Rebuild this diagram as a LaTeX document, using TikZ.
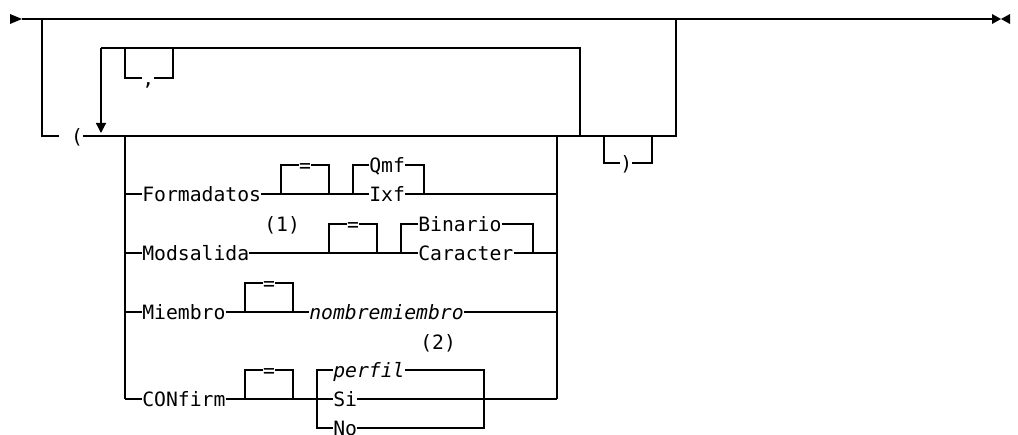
\documentclass[tikz,border=0pt]{standalone}
\usepackage{fontspec}
\newfontfamily\railfont{DejaVu Sans Mono}
\usetikzlibrary{arrows.meta}

\begin{document}
\begin{tikzpicture}[
  x=0.75pt, y=-0.75pt,
  word/.style={
    inner xsep=0pt,
    inner ysep=0pt,
    text height=10.8pt,
    text depth=0pt,
    anchor=west,
    font=\railfont\fontsize{14.8}{16}\selectfont
  },
  var/.style={word, font=\railfont\fontsize{14.8}{16}\selectfont\itshape},
  eqsign/.style={word, anchor=center},
  wire/.style={line width=0.9pt},
  backarrow/.style={wire, -{Triangle[length=7.5pt, width=7.5pt]}}
]

  \useasboundingbox (0,0) rectangle (1018,435);

  % start and end marks
  \fill (10,14) -- (22,19) -- (10,24) -- cycle;
  \fill (992,14) -- (1001,19) -- (992,24) -- cycle;
  \fill (1010,14) -- (1001,19) -- (1010,24) -- cycle;

  \coordinate (Start)  at (22,19);
  \coordinate (End)    at (992,19);
  \coordinate (OuterL) at (42,19);
  \coordinate (OuterR) at (676,19);

  \node[word] (lparen) at (59,136) {\hphantom{(}(};
  \node[word] (comma)  at (142,78) {,};
  \node[word] (rparen) at (620,163) {)};

  \node[word]   (formadatos) at (142,194) {Formadatos};
  \node[eqsign] (eq1)        at (305,165) {=};
  \node[word]   (qmf)        at (369,165) {Qmf};
  \node[word]   (ixf)        at (369,194) {Ixf};

  \node[word]   (modsalida) at (142,253) {Modsalida};
  \node[word]   (note1)     at (264,224) {(1)};
  \node[eqsign] (eq2)       at (353,224) {=};
  \node[word]   (binario)   at (418,224) {Binario};
  \node[word]   (caracter)  at (418,253) {Caracter};

  \node[word]   (miembro) at (142,312) {Miembro};
  \node[eqsign] (eq3)     at (269,283) {=};
  \node[var]    (nombre)  at (309,312) {nombremiembro};

  \node[word]   (confirm) at (142,399) {CONfirm};
  \node[eqsign] (eq4)     at (269,370) {=};
  \node[word]   (note2)   at (420,342) {(2)};
  \node[var]    (perfil)  at (333,370) {perfil};
  \node[word]   (si)      at (333,399) {Si};
  \node[word]   (no)      at (333,428) {No};

  \coordinate (RepR)   at (580,136);
  \coordinate (RepRT)  at (580,48);
  \coordinate (RepLT)  at (101,48);
  \coordinate (RepTip) at (101,133);
  \coordinate (CommaL) at (125,48);
  \coordinate (CommaR) at (173,48);
  \coordinate (BoxLT)  at (125,136);
  \coordinate (BoxRT)  at (557,136);
  \coordinate (ParL)   at (604,136);
  \coordinate (ParR)   at (652,136);

  \coordinate (Eq1L) at (281,194);
  \coordinate (Eq1R) at (329,194);
  \coordinate (FmtL) at (353,194);
  \coordinate (FmtR) at (424,194);
  \coordinate (Eq2L) at (329,253);
  \coordinate (Eq2R) at (377,253);
  \coordinate (ModL) at (401,253);
  \coordinate (ModR) at (533,253);
  \coordinate (Eq3L) at (245,312);
  \coordinate (Eq3R) at (293,312);
  \coordinate (Eq4L) at (245,399);
  \coordinate (Eq4R) at (293,399);
  \coordinate (CnfL) at (317,399);
  \coordinate (CnfR) at (484,399);

  % main line and outer bypass
  \draw[wire] (Start) -- (End);
  \draw[wire] (OuterL) |- (lparen.west);
  \draw[wire] (lparen.east) -| (OuterR);

  % repeat loop with comma
  \draw[wire] (RepR) -- (RepRT) -- (RepLT);
  \draw[backarrow] (RepLT) -- (RepTip);
  \draw[wire] (CommaL) |- (comma.west);
  \draw[wire] (comma.east) -| (CommaR);

  % choice box
  \draw[wire] (BoxLT) -- (BoxLT |- confirm);
  \draw[wire] (BoxRT) -- (BoxRT |- si);

  \draw[wire] (BoxLT |- formadatos) -- (formadatos.west);
  \draw[wire] (formadatos.east) -- (ixf.west);
  \draw[wire] (eq1.west) -| (Eq1L);
  \draw[wire] (eq1.east) -| (Eq1R);
  \draw[wire] (qmf.west) -| (FmtL);
  \draw[wire] (qmf.east) -| (FmtR);
  \draw[wire] (ixf.east) -- (BoxRT |- ixf);

  \draw[wire] (BoxLT |- modsalida) -- (modsalida.west);
  \draw[wire] (modsalida.east) -- (caracter.west);
  \draw[wire] (eq2.west) -| (Eq2L);
  \draw[wire] (eq2.east) -| (Eq2R);
  \draw[wire] (binario.west) -| (ModL);
  \draw[wire] (binario.east) -| (ModR);
  \draw[wire] (caracter.east) -- (BoxRT |- caracter);

  \draw[wire] (BoxLT |- miembro) -- (miembro.west);
  \draw[wire] (miembro.east) -- (nombre.west);
  \draw[wire] (eq3.west) -| (Eq3L);
  \draw[wire] (eq3.east) -| (Eq3R);
  \draw[wire] (nombre.east) -- (BoxRT |- nombre);

  \draw[wire] (BoxLT |- confirm) -- (confirm.west);
  \draw[wire] (confirm.east) -- (si.west);
  \draw[wire] (eq4.west) -| (Eq4L);
  \draw[wire] (eq4.east) -| (Eq4R);
  \draw[wire] (perfil.west) -| (CnfL |- no) -- (no.west);
  \draw[wire] (perfil.east) -| (CnfR |- no) -- (no.east);
  \draw[wire] (si.east) -- (BoxRT |- si);

  % closing parenthesis
  \draw[wire] (ParL) |- (rparen.west);
  \draw[wire] (rparen.east) -| (ParR);

\end{tikzpicture}
\end{document}
